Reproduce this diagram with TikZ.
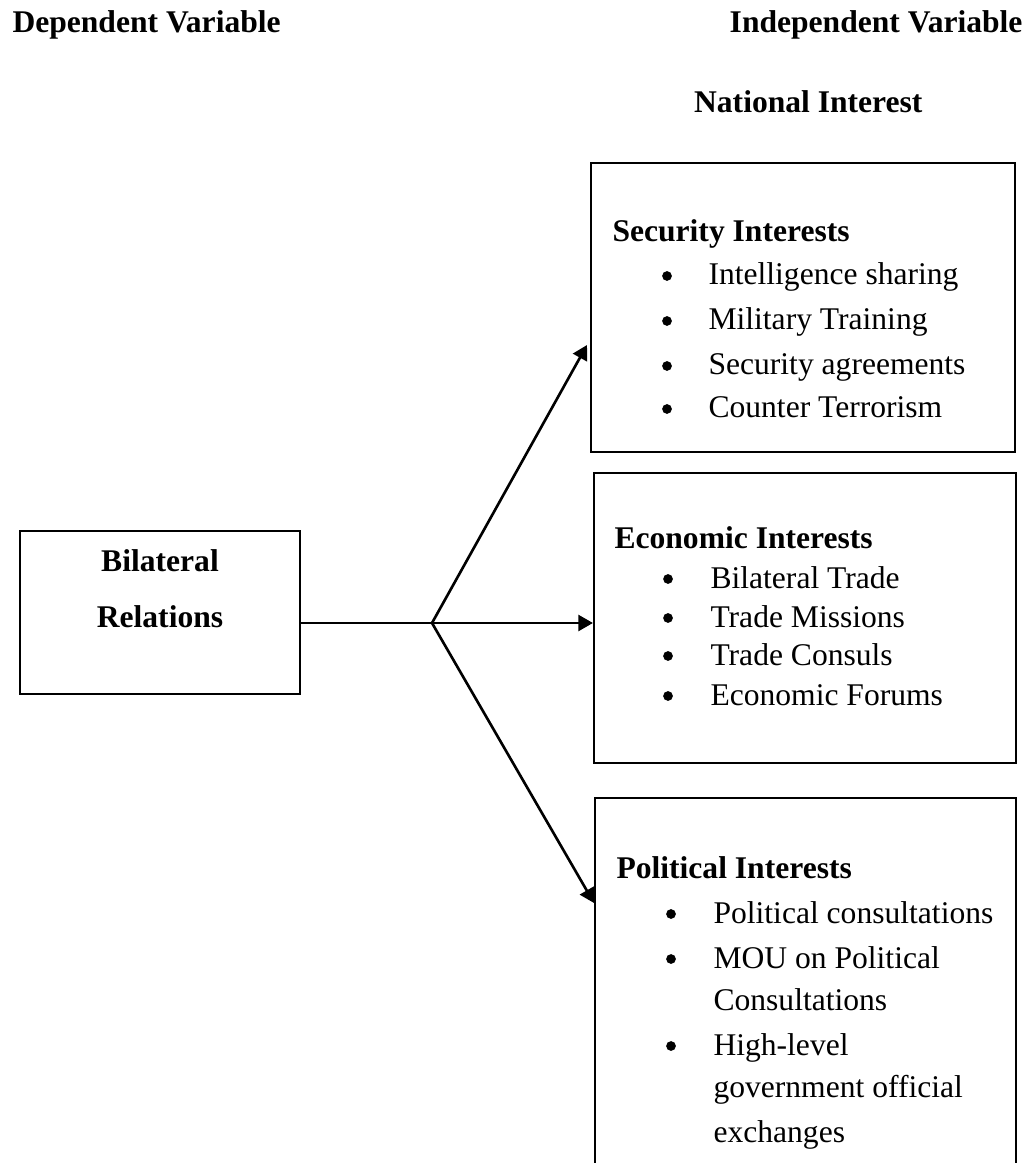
\documentclass[tikz,border=0pt]{standalone}
\usepackage{fontspec}
\setmainfont{Liberation Serif}
\usetikzlibrary{arrows.meta,fit}

\begin{document}
\begin{tikzpicture}[x=0.38pt,y=-0.38pt,
    box/.style={draw,line width=0.8pt,inner sep=0pt},
    txt/.style={anchor=base west,inner sep=0pt,font=\fontsize{12}{14}\selectfont},
    hd/.style={txt,font=\fontsize{12}{14}\selectfont\bfseries},
    dot/.style={circle,fill,inner sep=0pt,minimum size=3.7pt},
    link/.style={line width=1pt},
    arr/.style={link,-{Triangle[length=5.5pt,width=6pt]}}]
  \useasboundingbox (0,0) rectangle (1030,1163);
  \clip (0,0) rectangle (1030,1163);

  \node[hd] (dep) at (12,33) {Dependent Variable};
  \node[hd,anchor=base east] (indep) at (1023,33) {Independent Variable};
  \node[hd,anchor=base east] (natint) at (923,113) {National Interest};

  \node[box,fit={(20,531) (300,694)}] (bilat) {};
  \node[hd,anchor=base] (bilat1) at (160,571) {Bilateral};
  \node[hd,anchor=base] (bilat2) at (160,627) {Relations};

  \node[box,fit={(591,163) (1015,452)}] (sec) {};
  \node[hd] (sechd) at (612,242) {Security Interests};
  \foreach \y/\t in {285/Intelligence sharing,330/Military Training,
      375/Security agreements,418/Counter Terrorism}{
    \node[dot] (secdot\y) at (667,\y-9) {};
    \node[txt] (secitem\y) at (708,\y) {\t};
  }

  \node[box,fit={(594,473) (1016,763)}] (eco) {};
  \node[hd] (ecohd) at (614,549) {Economic Interests};
  \foreach \y/\t in {588/Bilateral Trade,627/Trade Missions,
      665/Trade Consuls,705/Economic Forums}{
    \node[dot] (ecodot\y) at (668,\y-9) {};
    \node[txt] (ecoitem\y) at (710,\y) {\t};
  }

  \node[box,fit={(595,798) (1016,1200)}] (pol) {};
  \node[hd] (polhd) at (616,878) {Political Interests};
  \foreach \y in {923,968,1055}
    \node[dot] (poldot\y) at (671,\y-9) {};
  \foreach \y/\t in {923/Political consultations,968/MOU on Political,
      1010/Consultations,1055/High-level,1097/government official,
      1142/exchanges}
    \node[txt] (politem\y) at (713,\y) {\t};

  \coordinate (fork) at (432,623);
  \coordinate (secin) at (587,345);
  \coordinate (polin) at (594,903);
  \draw[link] (bilat.east |- fork) -- (fork);
  \draw[arr] (fork) -- (secin);
  \draw[arr] (fork) -- (eco.west |- fork);
  \draw[arr] (fork) -- (polin);
\end{tikzpicture}
\end{document}
